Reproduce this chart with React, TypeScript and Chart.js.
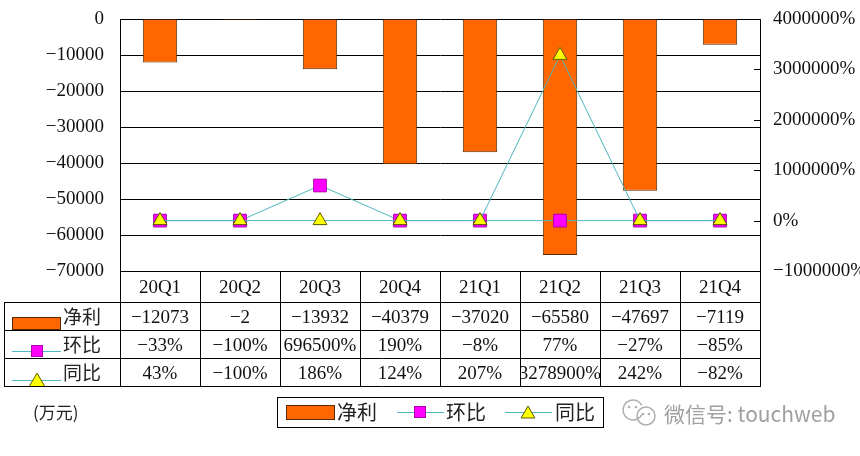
import React, { useEffect, useRef } from 'react';
import { Chart, registerables } from 'chart.js';

Chart.register(...registerables);

const categories = ['20Q1', '20Q2', '20Q3', '20Q4', '21Q1', '21Q2', '21Q3', '21Q4'];
const netProfit = [-12073, -2, -13932, -40379, -37020, -65580, -47697, -7119];
const qoq = [-33, -100, 696500, 190, -8, 77, -27, -85];
const yoy = [43, -100, 186, 124, 207, 3278900, 242, -82];
const seriesNames = ['净利', '环比', '同比'];
const leftAxis = { min: -70000, max: 0, step: 10000 };
const rightAxis = { min: -1000000, max: 4000000, step: 1000000 };
const unitLabel = '(万元)';
const watermark = '微信号: touchweb';

const BAR_FILL = '#ff6600';
const BAR_BORDER = '#5a2a00';
const LINE_COLOR = '#4fb8c0';
const SQ_FILL = '#ff00ff';
const SQ_BORDER = '#b000b0';
const TRI_FILL = '#ffff00';
const TRI_BORDER = '#5a5a00';
const NUM_FONT = '19px "Liberation Serif", serif';
const CJK_FONT = '19px "Noto Sans CJK SC", sans-serif';

const fmtNum = (v: number) => (v < 0 ? '\u2212' + Math.abs(v) : String(v));
const fmtPct = (v: number) => fmtNum(v) + '%';

function drawSquare(ctx: CanvasRenderingContext2D, cx: number, cy: number, s: number) {
  ctx.fillStyle = SQ_FILL;
  ctx.strokeStyle = SQ_BORDER;
  ctx.lineWidth = 1;
  ctx.fillRect(cx - s / 2, cy - s / 2, s, s);
  ctx.strokeRect(cx - s / 2, cy - s / 2, s, s);
}

function drawTriangle(ctx: CanvasRenderingContext2D, cx: number, cy: number, r: number) {
  ctx.beginPath();
  ctx.moveTo(cx, cy - r);
  ctx.lineTo(cx + r * 0.866, cy + r * 0.5);
  ctx.lineTo(cx - r * 0.866, cy + r * 0.5);
  ctx.closePath();
  ctx.fillStyle = TRI_FILL;
  ctx.fill();
  ctx.strokeStyle = TRI_BORDER;
  ctx.lineWidth = 1;
  ctx.stroke();
}

function hline(ctx: CanvasRenderingContext2D, x1: number, x2: number, y: number) {
  ctx.beginPath();
  ctx.moveTo(x1, Math.round(y) + 0.5);
  ctx.lineTo(x2, Math.round(y) + 0.5);
  ctx.stroke();
}
function vline(ctx: CanvasRenderingContext2D, x: number, y1: number, y2: number) {
  ctx.beginPath();
  ctx.moveTo(Math.round(x) + 0.5, y1);
  ctx.lineTo(Math.round(x) + 0.5, y2);
  ctx.stroke();
}

const tablePlugin = {
  id: 'tablePlugin',
  afterDraw(chart: any) {
    const ctx: CanvasRenderingContext2D = chart.ctx;
    const area = chart.chartArea;
    const xs = chart.scales.x;
    const y1 = chart.scales.y1;
    ctx.save();

    // inward tick marks on the right axis
    ctx.strokeStyle = '#000';
    ctx.lineWidth = 1;
    y1.ticks.forEach((_t: any, i: number) => {
      const py = y1.getPixelForTick(i);
      hline(ctx, area.right - 6, area.right, py);
    });

    // data table
    const n = categories.length;
    const colW = (area.right - area.left) / n;
    const top = area.bottom;
    const rows = [top, top + 31, top + 59, top + 87, top + 115];
    const tableLeft = 4;
    ctx.strokeStyle = '#000';
    for (let r = 1; r < rows.length; r++) hline(ctx, tableLeft, area.right + 1, rows[r]);
    vline(ctx, tableLeft, rows[1], rows[4] + 1);
    for (let i = 0; i <= n; i++) {
      const ex = i < n ? xs.getPixelForValue(i) - colW / 2 : xs.getPixelForValue(n - 1) + colW / 2;
      vline(ctx, ex, top, rows[4] + 1);
    }

    const cellText = (text: string, i: number, rTop: number, rBot: number, font: string, dy: number) => {
      const cx = xs.getPixelForValue(i);
      ctx.save();
      ctx.beginPath();
      ctx.rect(cx - colW / 2 + 1, rTop + 1, colW - 1, rBot - rTop - 1);
      ctx.clip();
      ctx.font = font;
      ctx.fillStyle = '#111';
      ctx.textAlign = 'center';
      ctx.textBaseline = 'middle';
      ctx.fillText(text, cx, rTop + dy);
      ctx.restore();
    };

    categories.forEach((c, i) => {
      cellText(c, i, rows[0], rows[1], NUM_FONT, 17);
      cellText(fmtNum(netProfit[i]), i, rows[1], rows[2], NUM_FONT, 16);
      cellText(fmtPct(qoq[i]), i, rows[2], rows[3], NUM_FONT, 16);
      cellText(fmtPct(yoy[i]), i, rows[3], rows[4], NUM_FONT, 16);
    });

    // legend keys in the table
    ctx.font = CJK_FONT;
    ctx.fillStyle = '#222';
    ctx.textAlign = 'left';
    ctx.textBaseline = 'middle';
    // 净利
    ctx.fillStyle = BAR_FILL;
    ctx.fillRect(12, rows[1] + 15, 49, 13);
    ctx.strokeStyle = BAR_BORDER;
    ctx.strokeRect(12.5, rows[1] + 15.5, 48, 12);
    ctx.fillStyle = '#222';
    ctx.fillText(seriesNames[0], 63, rows[1] + 15);
    // 环比
    ctx.strokeStyle = LINE_COLOR;
    hline(ctx, 12, 61, rows[2] + 21);
    drawSquare(ctx, 37, rows[2] + 21, 11);
    ctx.fillStyle = '#222';
    ctx.fillText(seriesNames[1], 63, rows[2] + 15);
    // 同比
    ctx.strokeStyle = LINE_COLOR;
    hline(ctx, 12, 61, rows[3] + 22);
    ctx.save();
    ctx.beginPath();
    ctx.rect(5, rows[3] + 1, 100, rows[4] - rows[3] - 1);
    ctx.clip();
    drawTriangle(ctx, 37, rows[3] + 24, 9);
    ctx.restore();
    ctx.fillStyle = '#222';
    ctx.fillText(seriesNames[2], 63, rows[3] + 15);

    // bottom legend box
    const lgTop = 397, lgBot = 427;
    ctx.strokeStyle = '#000';
    ctx.lineWidth = 1;
    ctx.strokeRect(277.5, lgTop + 0.5, 326, lgBot - lgTop);
    const lgMid = 412;
    ctx.font = '20px "Noto Sans CJK SC", sans-serif';
    ctx.fillStyle = BAR_FILL;
    ctx.fillRect(286, 405, 49, 15);
    ctx.strokeStyle = BAR_BORDER;
    ctx.strokeRect(286.5, 405.5, 48, 14);
    ctx.fillStyle = '#222';
    ctx.fillText(seriesNames[0], 337, lgMid);
    ctx.strokeStyle = LINE_COLOR;
    hline(ctx, 397, 444, lgMid);
    drawSquare(ctx, 420, lgMid, 11);
    ctx.fillStyle = '#222';
    ctx.fillText(seriesNames[1], 446, lgMid);
    ctx.strokeStyle = LINE_COLOR;
    hline(ctx, 505, 552, lgMid);
    drawTriangle(ctx, 528, lgMid + 2, 8);
    ctx.fillStyle = '#222';
    ctx.fillText(seriesNames[2], 555, lgMid);

    // unit label
    ctx.font = '17px "Noto Sans CJK SC", sans-serif';
    ctx.fillStyle = '#222';
    ctx.fillText(unitLabel, 33, 413);

    // watermark
    ctx.strokeStyle = '#b0b0b0';
    ctx.lineWidth = 1.5;
    ctx.beginPath();
    ctx.arc(633, 410, 10, Math.PI * 0.15, Math.PI * 1.85);
    ctx.stroke();
    ctx.beginPath();
    ctx.arc(646, 416, 9, 0, Math.PI * 2);
    ctx.stroke();
    ctx.fillStyle = '#b0b0b0';
    [[629, 407], [636, 407], [643, 414], [649, 414]].forEach(([px, py]) => {
      ctx.beginPath();
      ctx.arc(px, py, 1.3, 0, Math.PI * 2);
      ctx.fill();
    });
    ctx.font = '21px "Noto Sans CJK SC", sans-serif';
    ctx.fillStyle = '#a0a0a0';
    ctx.fillText(watermark, 664, 414);

    ctx.restore();
  },
};

export default function App() {
  const canvasRef = useRef<HTMLCanvasElement | null>(null);

  useEffect(() => {
    if (!canvasRef.current) return;
    const chart = new Chart(canvasRef.current, {
      type: 'bar',
      data: {
        labels: categories,
        datasets: [
          {
            type: 'bar',
            label: seriesNames[0],
            data: netProfit,
            yAxisID: 'y',
            backgroundColor: BAR_FILL,
            borderColor: BAR_BORDER,
            borderWidth: 1,
            categoryPercentage: 1,
            barPercentage: 0.43,
            order: 2,
          } as any,
          {
            type: 'line',
            label: seriesNames[1],
            data: qoq,
            yAxisID: 'y1',
            borderColor: LINE_COLOR,
            borderWidth: 1,
            pointStyle: 'rect',
            pointRadius: 9,
            pointBackgroundColor: SQ_FILL,
            pointBorderColor: SQ_BORDER,
            pointBorderWidth: 1,
            tension: 0,
            order: 1,
          } as any,
          {
            type: 'line',
            label: seriesNames[2],
            data: yoy,
            yAxisID: 'y1',
            borderColor: LINE_COLOR,
            borderWidth: 1,
            pointStyle: 'triangle',
            pointRadius: 8,
            pointBackgroundColor: TRI_FILL,
            pointBorderColor: TRI_BORDER,
            pointBorderWidth: 1,
            tension: 0,
            order: 0,
          } as any,
        ],
      },
      options: {
        responsive: false,
        animation: false,
        devicePixelRatio: 1,
        layout: { padding: { top: 19, bottom: 185, left: 0, right: 0 } },
        plugins: { legend: { display: false }, tooltip: { enabled: false } },
        scales: {
          x: { display: false, offset: true },
          y: {
            position: 'left',
            min: leftAxis.min,
            max: leftAxis.max,
            ticks: {
              stepSize: leftAxis.step,
              padding: 16,
              color: '#111',
              font: { family: '"Liberation Serif", serif', size: 19 },
              callback: (v: any) => fmtNum(Number(v)),
            },
            grid: { color: '#000', lineWidth: 1, drawTicks: false },
            border: { color: '#000', width: 1 },
            afterFit: (s: any) => {
              s.width = 120;
              s.paddingTop = 0;
              s.paddingBottom = 0;
            },
          },
          y1: {
            position: 'right',
            min: rightAxis.min,
            max: rightAxis.max,
            ticks: {
              stepSize: rightAxis.step,
              padding: 13,
              color: '#111',
              font: { family: '"Liberation Serif", serif', size: 19 },
              callback: (v: any) => fmtPct(Number(v)),
            },
            grid: { drawOnChartArea: false, drawTicks: false },
            border: { color: '#000', width: 1 },
            afterFit: (s: any) => {
              s.width = 100;
              s.paddingTop = 0;
              s.paddingBottom = 0;
            },
          },
        },
      } as any,
      plugins: [tablePlugin],
    });
    return () => chart.destroy();
  }, []);

  return (
    <div style={{ position: 'absolute', left: 0, top: 0, width: 860, height: 456, background: '#fff' }}>
      <canvas ref={canvasRef} width={860} height={456} />
    </div>
  );
}
